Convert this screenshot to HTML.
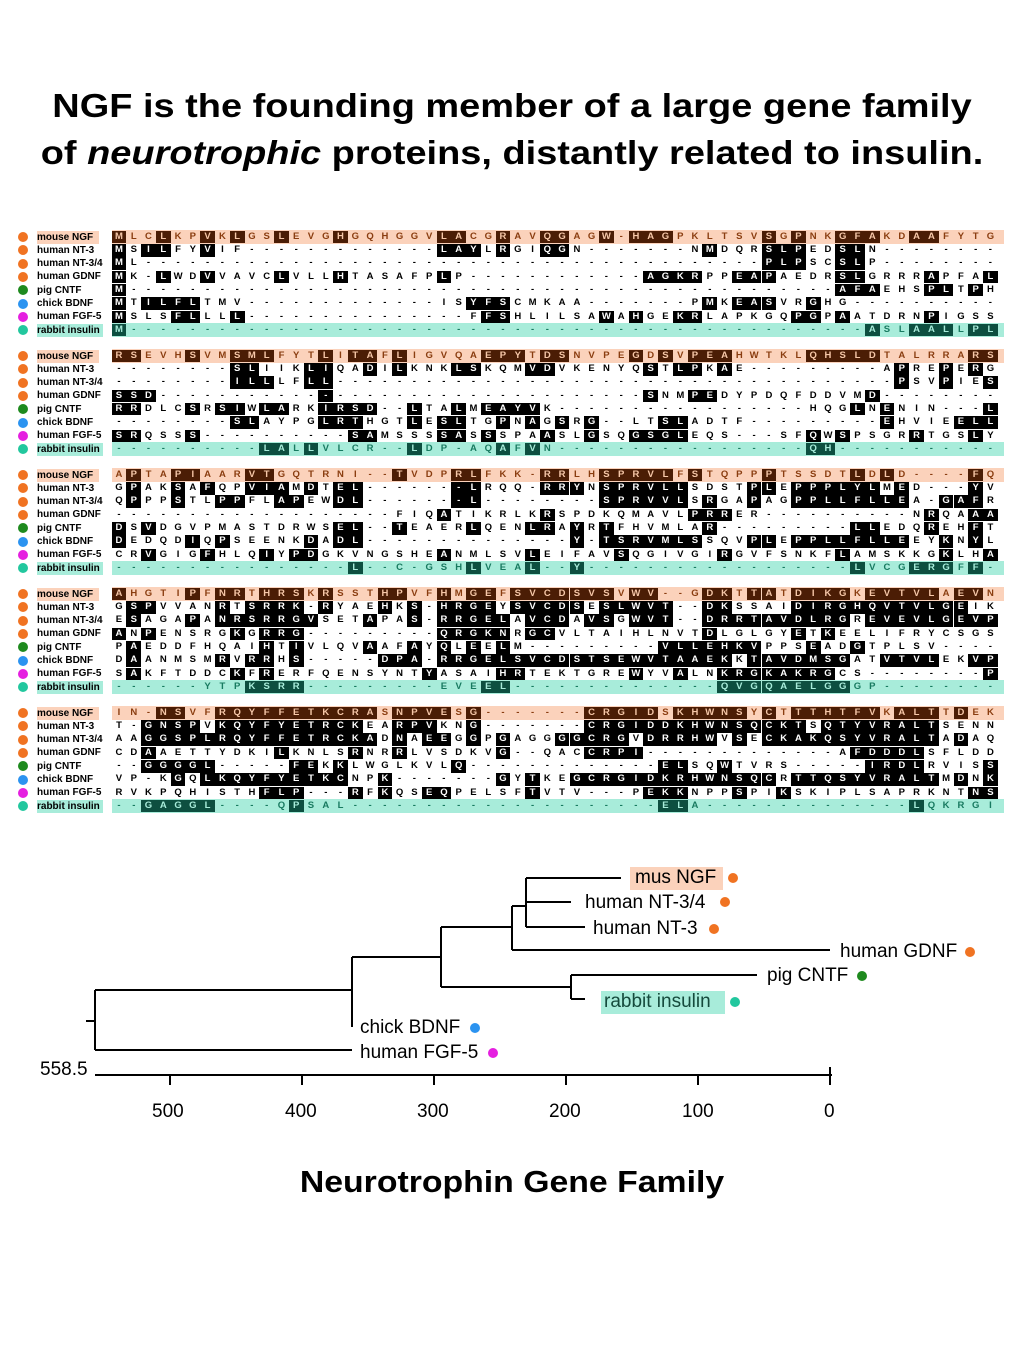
<!DOCTYPE html>
<html><head><meta charset="utf-8">
<style>
html,body{margin:0;padding:0;background:#fff;}
body{width:1024px;height:1365px;position:relative;overflow:hidden;font-family:"Liberation Sans",Arial,sans-serif;}
.t{position:absolute;left:0;width:1024px;text-align:center;font-weight:bold;font-size:33px;color:#000;white-space:nowrap;transform:scaleX(1.15);transform-origin:512px 0;}
.a{position:absolute;}
.c{position:absolute;width:14.77px;height:12.5px;line-height:12.5px;text-align:center;font-weight:bold;font-size:9.5px;}
.lb{position:absolute;font-weight:bold;font-size:10px;line-height:13px;white-space:nowrap;color:#000;}
.dot{position:absolute;width:10px;height:10px;border-radius:50%;}
.tl{position:absolute;font-size:19px;white-space:nowrap;color:#000;line-height:22px;}
.td{position:absolute;width:10px;height:10px;border-radius:50%;}
</style></head><body>
<div class="t" style="top:87px;">NGF is the founding member of a large gene family</div>
<div class="t" style="top:134px;">of <i>neurotrophic</i> proteins, distantly related to insulin.</div>
<div id="aln"></div>
<script>
var N=["mouse NGF","human NT-3","human NT-3/4","human GDNF","pig CNTF","chick BDNF","human FGF-5","rabbit insulin"];
var C=["#f07322","#f07322","#f07322","#f07322","#1e8a1e","#2b93f0","#e51fe0","#22c79e"];
function d(n){return "-".repeat(n);}
var B=[
["mLClKPvKlGSlEVGhGQHGGVlaCGrAVqgAGw-hagPKLTSVsGpNKgfaKDaaFYTG",
"mSilFYvIF"+d(13)+"layLrGIqgN"+d(7)+"NmDQRslpEDslN"+d(8),
"mL"+d(42)+"plpSCslP"+d(8),
"mK-lWDvVAVClVLLhTASAFPlP"+d(12)+"agkrPPeapAEDRslGRRRaPFAl",
"m"+d(48)+"afaEHSplTpH",
"mTilflTMV"+d(13)+"ISyfsCMKAA"+d(7)+"PmKeasVRgHG"+d(10),
"mSLSflLLl"+d(15)+"FfsHLILSAwAhGEkrLAPKGQpgPaATDRNpIGSS",
"m"+d(50)+"aSLaalLpl"],
["rsEVHsVMsmlFYTlItaFlIGVQAepyTdsNVPEgDsVpeaHWTKLqhsldTALRRArs",
d(8)+"slIIKliQAdIlKNKlsKQ"+"MvdVKENYQsTlpKaE"+d(9)+"ApREpErG",
d(8)+"illLFll"+d(38)+"pSVpIEs",
"ssd"+d(11)+"_"+d(21)+"sNMpeDYPDQFDDVMd"+d(8),
"rrDLCsRsiWlaRKirsd--lTAlMeayvK"+d(17)+"HQGlNeNIN---l",
d(8)+"slAYPGlrtHGTlEslTGp"+"NaGsRg--LTslADTF"+d(9)+"eHVIEell",
"srQSSs"+d(10)+"saMSSSsaSsS"+"PAaSLgSQgsglEQS"+"---"+"SFqWsPSGRrTGSlY",
d(10)+"laLlVLCR--lDP-AQa"+"FvN"+d(17)+"qh"+d(11)],
["ApTApiAARvtGQTRNI--tVDPrlFKK-rrLHsprvlFsTQPPpTSSDTlDlD----fQ",
"GpAKsAfQPviaMdTel"+d(6)+"_lRQ"+"Q-rryNsprvllSDSTplEppplylMeD"+"---"+"yV",
"QpPPsTLppFLapEWdl"+d(6)+"_l--"+d(6)+"sprvvlSrGApAGppllflleA-gafR",
d(19)+"FIQaTIKR"+"LKrSPDKQMAVLprrER"+d(10)+"NrQAaa",
"dSvDGVPMASTDRWSel--tEAERlQE"+"NlrAyRtFHVMLAr"+d(9)+"llEDQrEHfT",
"dEDQDiQpSEENKdAdl"+d(14)+"y-"+"tsrvmlsSQVplEppllflleEYkNyL",
"CRvGIGfHLQiYpdGKVNGSHEaNMLS"+"VlEIFAVsQGIVGIrGVFSNKFlAMSKKGkLHa",
d(16)+"l--C-GSHlVE"+"Al--y"+d(18)+"lVCGergFf-"],
["aHGTIpFnrThrsKrSSThpVFhMgeF"+"svcdsvsVwv--GdkTtaTdikgKevtvlAevN",
"GspVVANrTsrrk-rYAEhKs-hrgeY"+"svcdsEslwvt--dkSSAIdirghqvtvlgeIK",
"EsAGApAnrsrrgvSETaPAs-rrgel"+"AvcdAvsGwvt--drrtavdlrgRevevlgevp",
"aNpENSRGkGrrg"+d(9)+"qrgkn"+"RgcVLTAIHLNVTdLGLGYeTkEELIFRYCSGS",
"PaEDDFHQAIhTiVLQVaAFaYqLeEl"+"M"+d(9)+"vllehkvPPSeADgTPLSV----",
"DaANMSMrVrrHs-----dpa-rrgel"+"svcdstsewvtaaekKtavdmsgATvtvlEKvp",
"SaKFTDDCkFrERFQENSYNTyASAIh"+"rTEKTGREwYVaLNkrgkakrgCS"+d(8)+"p",
"------YTPksrr"+d(9)+"EVEel"+d(14)+"qvgqaelggGP"+d(8)],
["IN-nsVFrqyffetkcraSnpveSg--"+"-----"+"crgidSkhwnsYcTtthtfvKaltTdEK",
"T-gnspVkqyfyetrckEArpvKNg--"+"-----"+"crgiddkhwnsqcktSqtyvraltSENN",
"AAggsplrqyffetrckaDnAeeGgPg"+"AGGggcrgVdrrhwVsEckakqsyvraltAdAQ",
"CDaAETTYDKIlKNLSrNRrLVSDKVg"+"--QACcrpi"+d(13)+"AfdddlSFLDD",
"--ggggl-----feKkLWGLKVLq---"+d(10)+"elSQwTVRS"+d(5)+"irdlRVISs",
"VP-KgQlkqyfyetkcNPk"+d(7)+"g"+"YtKEgcrgidkrhwnsqcRttqsyvraltMdNk",
"RVKPQHISTHflp---rFkQSeqPELS"+"FtVTV---PekkNPPsPIkSKIPLSAPRKNTns",
"--gaggl----QpSAL"+d(21)+"elA"+d(14)+"lQKRGI"]
];
var h=[];
B.forEach(function(blk,b){blk.forEach(function(s,i){
 var y=237+b*119+i*13.3;
 h.push('<div class="dot" style="left:18px;top:'+(y-5)+'px;background:'+C[i]+'"></div>');
 var bg=i==0?'background:#fbd2bb;':(i==7?'background:#a8ecda;':'');
 h.push('<div class="lb" style="left:37px;top:'+(y-6.5)+'px;'+bg+'padding-right:'+(i==0?6:(i==7?3:0))+'px">'+N[i]+'</div>');
 if(i==0) h.push('<div class="a" style="left:112px;top:'+(y-7)+'px;width:892px;height:14px;background:#fbd2bb"></div>');
 if(i==7) h.push('<div class="a" style="left:112px;top:'+(y-7)+'px;width:892px;height:14px;background:#a8ecda"></div>');
 s=(s+d(60)).slice(0,60);
 for(var c=0;c<60;c++){
  var ch=s[c];var hl=(ch=='_')||(ch!='-'&&ch==ch.toLowerCase());
  var t=ch=='_'?'-':ch.toUpperCase();
  var col,bgc='';
  if(i==0){col=hl?'#f6c7a8':'#8a3d10';if(hl)bgc='background:#4b1d05;';}
  else if(i==7){col=hl?'#a8ecda':'#187a60';if(hl)bgc='background:#0d4f40;';}
  else{col=hl?'#fff':'#000';if(hl)bgc='background:#000;';}
  h.push('<div class="c" style="left:'+(111.6+c*14.77).toFixed(1)+'px;top:'+(y-6.25).toFixed(1)+'px;color:'+col+';'+bgc+'">'+t+'</div>');
 }
});});
document.getElementById('aln').innerHTML=h.join('');
</script>
<svg class="a" style="left:0;top:0" width="1024" height="1365">
<g stroke="#000" stroke-width="2" fill="none">
<path d="M86 1021H95M95 990V1050M95 1050H352M95 990H352M352 957V1027M352 957H441M441 927V987M441 987H571M571 975V999M571 975H757M571 999H585M441 927H512M512 906V950M512 950H830M512 906H526M526 878V927M526 878H621M526 902H571M526 927H585"/>
<path d="M95 1075H832M170 1075V1085M302 1075V1085M434 1075V1085M566 1075V1085M698 1075V1085M830 1067V1085"/>
</g>
</svg>
<div class="a" style="left:630px;top:867px;width:93px;height:23px;background:#fbd2bb"></div>
<div class="a" style="left:601px;top:991px;width:124px;height:23px;background:#a8ecda"></div>
<div class="tl" style="left:635px;top:867px;">mus NGF</div>
<div class="td" style="left:728px;top:873px;background:#f07322"></div>
<div class="tl" style="left:585px;top:892px;">human NT-3/4</div>
<div class="td" style="left:720px;top:897px;background:#f07322"></div>
<div class="tl" style="left:593px;top:918px;">human NT-3</div>
<div class="td" style="left:709px;top:924px;background:#f07322"></div>
<div class="tl" style="left:840px;top:941px;">human GDNF</div>
<div class="td" style="left:965px;top:947px;background:#f07322"></div>
<div class="tl" style="left:767px;top:965px;">pig CNTF</div>
<div class="td" style="left:857px;top:971px;background:#1e8a1e"></div>
<div class="tl" style="left:604px;top:991px;color:#154a3c;">rabbit insulin</div>
<div class="td" style="left:730px;top:997px;background:#22c79e"></div>
<div class="tl" style="left:360px;top:1017px;">chick BDNF</div>
<div class="td" style="left:470px;top:1023px;background:#2b93f0"></div>
<div class="tl" style="left:360px;top:1042px;">human FGF-5</div>
<div class="td" style="left:488px;top:1048px;background:#e51fe0"></div>
<div class="tl" style="left:40px;top:1059px;">558.5</div>
<div class="tl" style="left:152px;top:1101px;">500</div>
<div class="tl" style="left:285px;top:1101px;">400</div>
<div class="tl" style="left:417px;top:1101px;">300</div>
<div class="tl" style="left:549px;top:1101px;">200</div>
<div class="tl" style="left:682px;top:1101px;">100</div>
<div class="tl" style="left:824px;top:1101px;">0</div>
<div class="t" style="top:1164px;font-size:31px;transform:scaleX(1.09);">Neurotrophin Gene Family</div>
</body></html>
